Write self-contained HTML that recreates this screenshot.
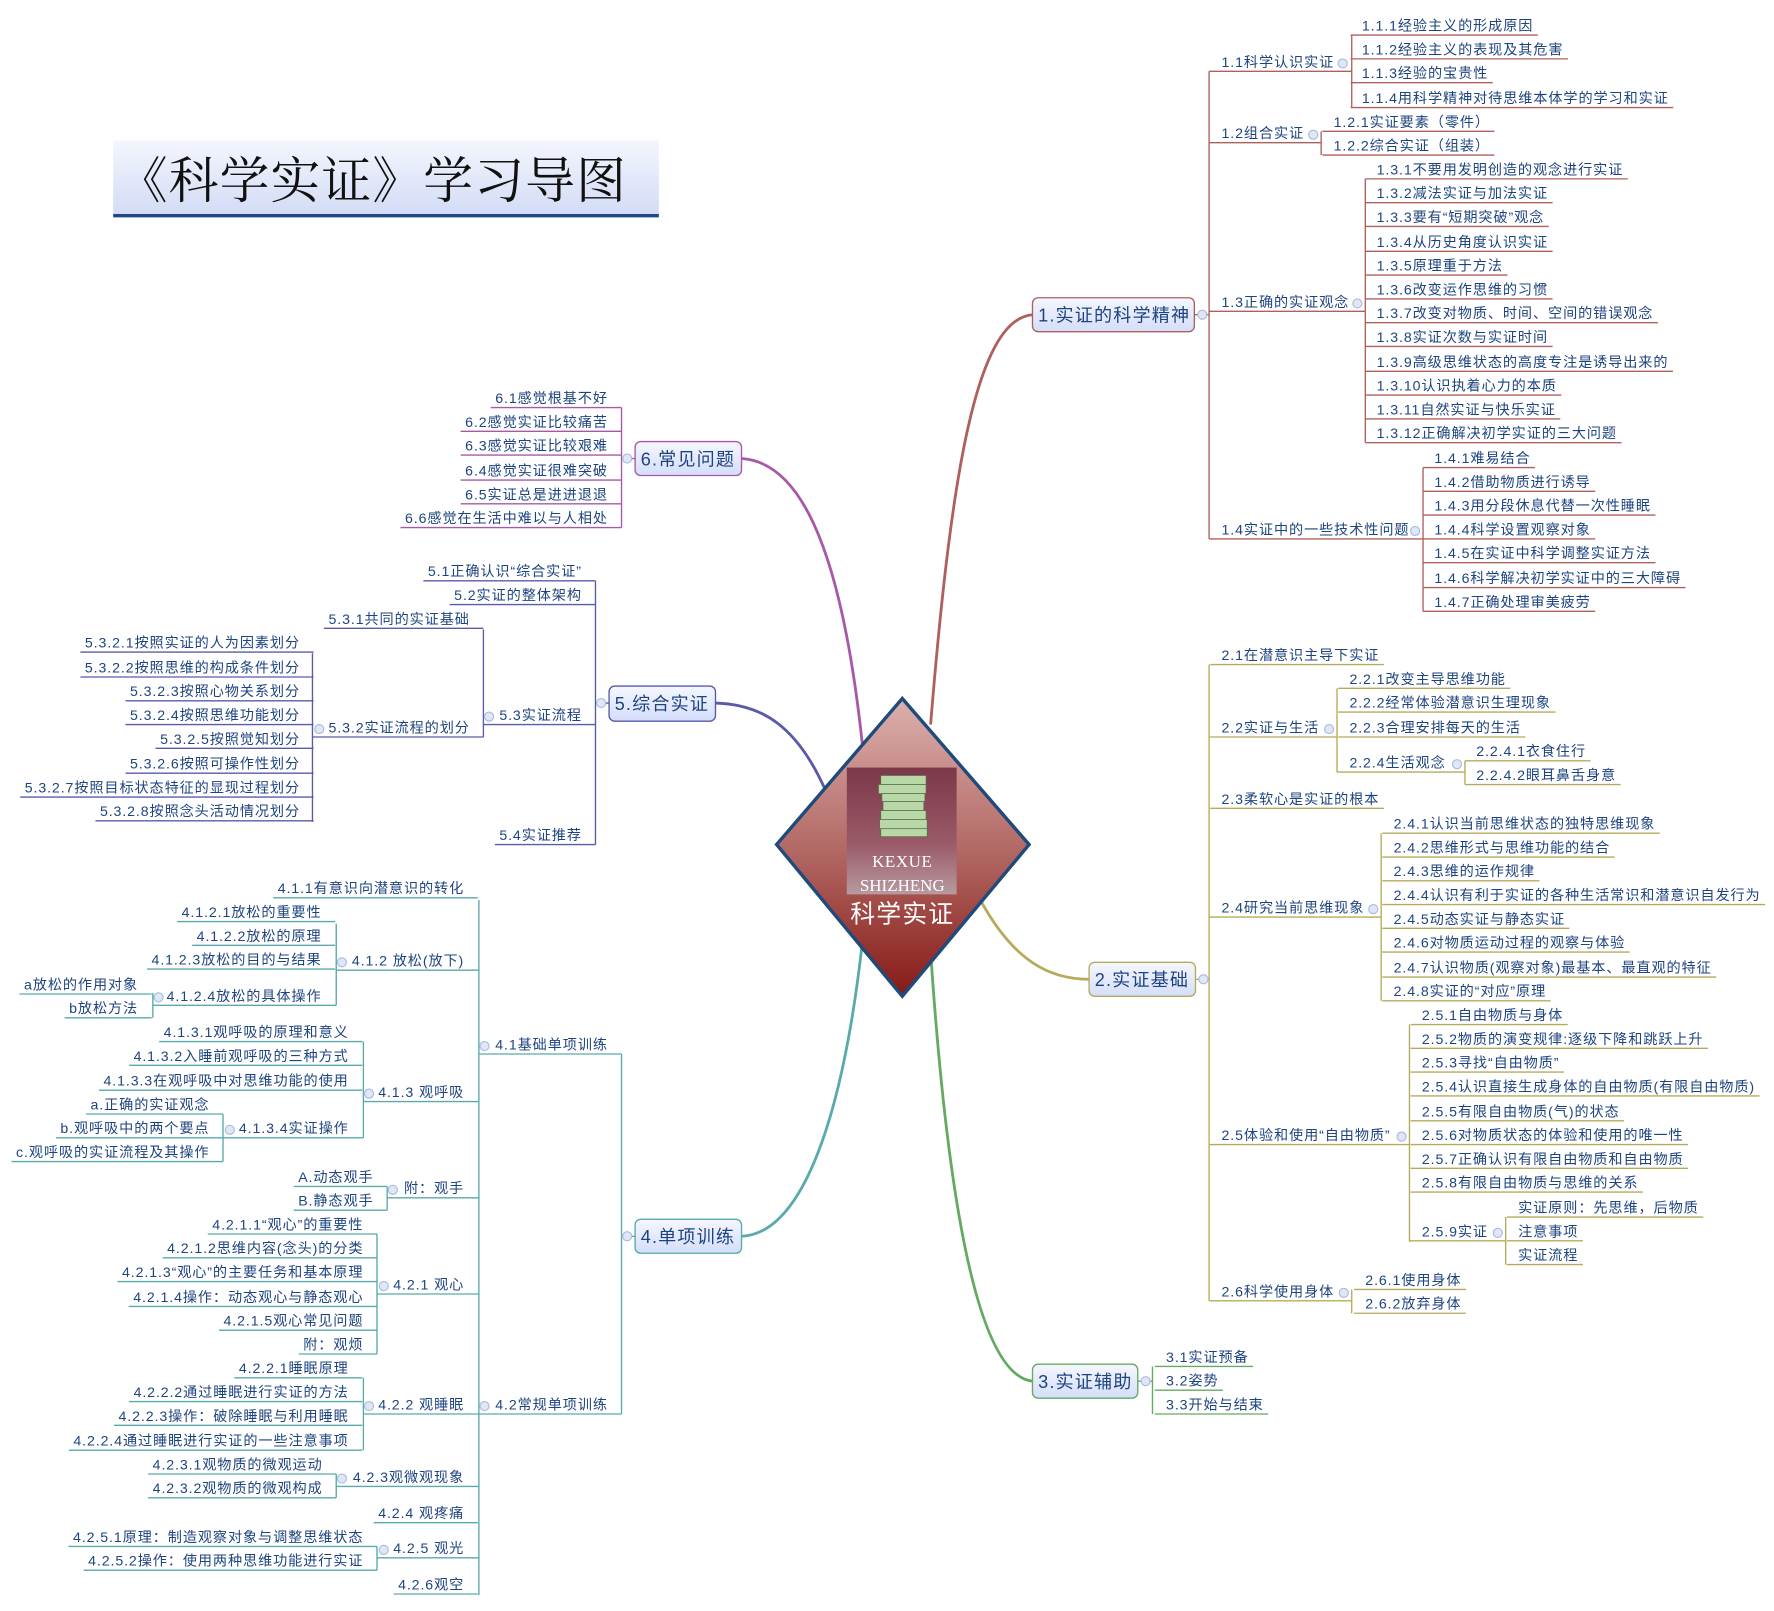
<!DOCTYPE html>
<html><head><meta charset="utf-8">
<style>
html,body{margin:0;padding:0;background:#fff;}
svg{display:block;}
text{font-family:"Liberation Sans","Noto Sans CJK SC",sans-serif;font-size:12.5px;fill:#1e4480;stroke:none;letter-spacing:0.8px;}
.mb{font-size:16px;letter-spacing:1px;}
.ln{fill:none;stroke-width:1.2;}
.cc{fill:#dfe7f6;stroke:#a9bbdc;stroke-width:1;}
</style></head>
<body>
<svg width="1774" height="1611" viewBox="0 0 1567 1423" xmlns="http://www.w3.org/2000/svg">
<defs>
<linearGradient id="tg" x1="0" y1="0" x2="0" y2="1"><stop offset="0" stop-color="#f4f6fd"/><stop offset="1" stop-color="#d3dcf6"/></linearGradient>
<linearGradient id="bg" x1="0" y1="0" x2="0" y2="1"><stop offset="0" stop-color="#f5f7fe"/><stop offset="1" stop-color="#d4defa"/></linearGradient>
<linearGradient id="dg" x1="0" y1="0" x2="0" y2="1"><stop offset="0" stop-color="#dcb0ad"/><stop offset="0.5" stop-color="#b36a66"/><stop offset="1" stop-color="#861a16"/></linearGradient>
<linearGradient id="ig" x1="0" y1="0" x2="0" y2="1"><stop offset="0" stop-color="#7a3848"/><stop offset="0.6" stop-color="#9a5a68"/><stop offset="1" stop-color="#b89aa0"/></linearGradient>
</defs>

<rect x="100" y="124" width="482" height="66" fill="url(#tg)"/>
<rect x="100" y="189" width="482" height="3" fill="#1d4a86"/>
<text x="104" y="175" style="font-family:'Liberation Serif','Noto Serif CJK SC',serif;font-size:44px;fill:#111;letter-spacing:1px;">《科学实证》学习导图</text>

<path d="M822,640 C840,420 862,282 912,278" fill="none" stroke="#b0605c" stroke-width="2.5"/>
<path d="M762,660 C742,470 702,408 655,405" fill="none" stroke="#a858a8" stroke-width="2.5"/>
<path d="M730,700 C704,640 672,622 632,621" fill="none" stroke="#5a5aaa" stroke-width="2.5"/>
<path d="M762,830 C742,1010 702,1090 655,1092" fill="none" stroke="#5aaaaa" stroke-width="2.5"/>
<path d="M866,795 C896,850 928,865 962,865" fill="none" stroke="#b4ac5c" stroke-width="2.5"/>
<path d="M822,840 C836,1050 862,1215 912,1220" fill="none" stroke="#66aa62" stroke-width="2.5"/>

<polygon points="797,617 909,746 797,880 686,746" fill="url(#dg)" stroke="#1e4a7c" stroke-width="3"/>
<rect x="748" y="678" width="97" height="112" fill="url(#ig)"/>
<g fill="#b8d8a8" stroke="#5a6a4a" stroke-width="0.6">
<rect x="778" y="685" width="40" height="8"/><rect x="776" y="693" width="42" height="8"/><rect x="779" y="701" width="38" height="7"/>
<rect x="780" y="708" width="36" height="8"/><rect x="778" y="716" width="40" height="8"/><rect x="777" y="724" width="42" height="8"/><rect x="778" y="732" width="41" height="7"/>
</g>
<text x="797" y="766" text-anchor="middle" style="font-family:'Liberation Serif',serif;font-size:15px;fill:#fff;letter-spacing:0.5px;">KEXUE</text>
<text x="797" y="787" text-anchor="middle" style="font-family:'Liberation Serif',serif;font-size:15px;fill:#fff;letter-spacing:0;">SHIZHENG</text>
<text x="797" y="815" text-anchor="middle" style="font-size:22px;fill:#fff;letter-spacing:1px;">科学实证</text>

<g stroke="#b0605c">
<rect x="912" y="263" width="143" height="30" rx="5" fill="url(#bg)" stroke-width="1.2"/>
<text class="mb" x="917" y="284">1.实证的科学精神</text>
<path class="ln" d="M1055,278 H1068 M1068,63 V476 M1068,63 H1194 M1068,126 H1167 M1068,275 H1206 M1068,476 H1257 M1194,31 V95 M1167,116 V137 M1206,158 V391 M1257,413 V540"/>
<circle class="cc" cx="1062" cy="278" r="4"/><circle class="cc" cx="1186" cy="56" r="4"/><circle class="cc" cx="1160" cy="119" r="4"/><circle class="cc" cx="1199" cy="268" r="4"/><circle class="cc" cx="1250" cy="469" r="4"/>
<text x="1079" y="59">1.1科学认识实证</text>
<text x="1079" y="122">1.2组合实证</text>
<text x="1079" y="271">1.3正确的实证观念</text>
<text x="1079" y="472">1.4实证中的一些技术性问题</text>
<text class="l" x="1203" y="27">1.1.1经验主义的形成原因</text>
<text class="l" x="1203" y="48">1.1.2经验主义的表现及其危害</text>
<text class="l" x="1203" y="69">1.1.3经验的宝贵性</text>
<text class="l" x="1203" y="91">1.1.4用科学精神对待思维本体学的学习和实证</text>
<text class="l" x="1178" y="112">1.2.1实证要素（零件）</text>
<text class="l" x="1178" y="133">1.2.2综合实证（组装）</text>
<text class="l" x="1216" y="154">1.3.1不要用发明创造的观念进行实证</text>
<text class="l" x="1216" y="175">1.3.2减法实证与加法实证</text>
<text class="l" x="1216" y="196">1.3.3要有“短期突破”观念</text>
<text class="l" x="1216" y="218">1.3.4从历史角度认识实证</text>
<text class="l" x="1216" y="239">1.3.5原理重于方法</text>
<text class="l" x="1216" y="260">1.3.6改变运作思维的习惯</text>
<text class="l" x="1216" y="281">1.3.7改变对物质、时间、空间的错误观念</text>
<text class="l" x="1216" y="302">1.3.8实证次数与实证时间</text>
<text class="l" x="1216" y="324">1.3.9高级思维状态的高度专注是诱导出来的</text>
<text class="l" x="1216" y="345">1.3.10认识执着心力的本质</text>
<text class="l" x="1216" y="366">1.3.11自然实证与快乐实证</text>
<text class="l" x="1216" y="387">1.3.12正确解决初学实证的三大问题</text>
<text class="l" x="1267" y="409">1.4.1难易结合</text>
<text class="l" x="1267" y="430">1.4.2借助物质进行诱导</text>
<text class="l" x="1267" y="451">1.4.3用分段休息代替一次性睡眠</text>
<text class="l" x="1267" y="472">1.4.4科学设置观察对象</text>
<text class="l" x="1267" y="493">1.4.5在实证中科学调整实证方法</text>
<text class="l" x="1267" y="515">1.4.6科学解决初学实证中的三大障碍</text>
<text class="l" x="1267" y="536">1.4.7正确处理审美疲劳</text>
</g>

<g stroke="#b4ac5c">
<rect x="962" y="850" width="94" height="30" rx="5" fill="url(#bg)" stroke-width="1.2"/>
<text class="mb" x="967" y="871">2.实证基础</text>
<path class="ln" d="M1056,865 H1068 M1068,587 V1149 M1068,651 H1181 M1181,682 H1294 M1068,810 H1220 M1068,1011 H1245 M1245,1096 H1330 M1068,1149 H1194 M1181,608 V682 M1294,672 V693 M1220,736 V884 M1245,905 V1097 M1330,1075 V1117 M1194,1139 V1160"/>
<circle class="cc" cx="1063" cy="865" r="4"/><circle class="cc" cx="1174" cy="644" r="4"/><circle class="cc" cx="1287" cy="675" r="4"/><circle class="cc" cx="1213" cy="803" r="4"/><circle class="cc" cx="1238" cy="1004" r="4"/><circle class="cc" cx="1323" cy="1089" r="4"/><circle class="cc" cx="1187" cy="1142" r="4"/>
<text class="l" x="1079" y="583">2.1在潜意识主导下实证</text>
<text x="1079" y="647">2.2实证与生活</text>
<text class="l" x="1079" y="710">2.3柔软心是实证的根本</text>
<text x="1079" y="806">2.4研究当前思维现象</text>
<text x="1079" y="1007">2.5体验和使用“自由物质”</text>
<text x="1079" y="1145">2.6科学使用身体</text>
<text class="l" x="1192" y="604">2.2.1改变主导思维功能</text>
<text class="l" x="1192" y="625">2.2.2经常体验潜意识生理现象</text>
<text class="l" x="1192" y="647">2.2.3合理安排每天的生活</text>
<text x="1192" y="678">2.2.4生活观念</text>
<text class="l" x="1304" y="668">2.2.4.1衣食住行</text>
<text class="l" x="1304" y="689">2.2.4.2眼耳鼻舌身意</text>
<text class="l" x="1231" y="732">2.4.1认识当前思维状态的独特思维现象</text>
<text class="l" x="1231" y="753">2.4.2思维形式与思维功能的结合</text>
<text class="l" x="1231" y="774">2.4.3思维的运作规律</text>
<text class="l" x="1231" y="795">2.4.4认识有利于实证的各种生活常识和潜意识自发行为</text>
<text class="l" x="1231" y="816">2.4.5动态实证与静态实证</text>
<text class="l" x="1231" y="837">2.4.6对物质运动过程的观察与体验</text>
<text class="l" x="1231" y="859">2.4.7认识物质(观察对象)最基本、最直观的特征</text>
<text class="l" x="1231" y="880">2.4.8实证的“对应”原理</text>
<text class="l" x="1256" y="901">2.5.1自由物质与身体</text>
<text class="l" x="1256" y="922">2.5.2物质的演变规律:逐级下降和跳跃上升</text>
<text class="l" x="1256" y="943">2.5.3寻找“自由物质”</text>
<text class="l" x="1256" y="964">2.5.4认识直接生成身体的自由物质(有限自由物质)</text>
<text class="l" x="1256" y="986">2.5.5有限自由物质(气)的状态</text>
<text class="l" x="1256" y="1007">2.5.6对物质状态的体验和使用的唯一性</text>
<text class="l" x="1256" y="1028">2.5.7正确认识有限自由物质和自由物质</text>
<text class="l" x="1256" y="1049">2.5.8有限自由物质与思维的关系</text>
<text x="1256" y="1092">2.5.9实证</text>
<text class="l" x="1341" y="1071">实证原则：先思维，后物质</text>
<text class="l" x="1341" y="1092">注意事项</text>
<text class="l" x="1341" y="1113">实证流程</text>
<text class="l" x="1206" y="1135">2.6.1使用身体</text>
<text class="l" x="1206" y="1156">2.6.2放弃身体</text>
</g>

<g stroke="#66aa62">
<rect x="912" y="1205" width="93" height="30" rx="5" fill="url(#bg)" stroke-width="1.2"/>
<text class="mb" x="917" y="1226">3.实证辅助</text>
<path class="ln" d="M1005,1220 H1018 M1018,1207 V1249"/>
<circle class="cc" cx="1012" cy="1220" r="4"/>
<text class="l" x="1030" y="1203">3.1实证预备</text>
<text class="l" x="1030" y="1224">3.2姿势</text>
<text class="l" x="1030" y="1245">3.3开始与结束</text>
</g>

<g stroke="#a858a8">
<rect x="561" y="390" width="94" height="30" rx="5" fill="url(#bg)" stroke-width="1.2"/>
<text class="mb" x="566" y="411">6.常见问题</text>
<path class="ln" d="M549,405 H561 M549,360 V466"/>
<circle class="cc" cx="554" cy="405" r="4"/>
<text class="l" text-anchor="end" x="537" y="356">6.1感觉根基不好</text>
<text class="l" text-anchor="end" x="537" y="377">6.2感觉实证比较痛苦</text>
<text class="l" text-anchor="end" x="537" y="398">6.3感觉实证比较艰难</text>
<text class="l" text-anchor="end" x="537" y="420">6.4感觉实证很难突破</text>
<text class="l" text-anchor="end" x="537" y="441">6.5实证总是进进退退</text>
<text class="l" text-anchor="end" x="537" y="462">6.6感觉在生活中难以与人相处</text>
</g>

<g stroke="#5a5aaa">
<rect x="538" y="606" width="94" height="31" rx="5" fill="url(#bg)" stroke-width="1.2"/>
<text class="mb" x="543" y="627">5.综合实证</text>
<path class="ln" d="M526,621 H538 M526,513 V746 M427,640 H526 M276,651 H427 M427,556 V651 M276,577 V726"/>
<circle class="cc" cx="531" cy="621" r="4"/><circle class="cc" cx="432" cy="633" r="4"/><circle class="cc" cx="282" cy="644" r="4"/>
<text class="l" text-anchor="end" x="514" y="509">5.1正确认识“综合实证”</text>
<text class="l" text-anchor="end" x="514" y="530">5.2实证的整体架构</text>
<text text-anchor="end" x="514" y="636">5.3实证流程</text>
<text class="l" text-anchor="end" x="514" y="742">5.4实证推荐</text>
<text class="l" text-anchor="end" x="415" y="551">5.3.1共同的实证基础</text>
<text text-anchor="end" x="415" y="647">5.3.2实证流程的划分</text>
<text class="l" text-anchor="end" x="265" y="572">5.3.2.1按照实证的人为因素划分</text>
<text class="l" text-anchor="end" x="265" y="594">5.3.2.2按照思维的构成条件划分</text>
<text class="l" text-anchor="end" x="265" y="615">5.3.2.3按照心物关系划分</text>
<text class="l" text-anchor="end" x="265" y="636">5.3.2.4按照思维功能划分</text>
<text class="l" text-anchor="end" x="265" y="657">5.3.2.5按照觉知划分</text>
<text class="l" text-anchor="end" x="265" y="679">5.3.2.6按照可操作性划分</text>
<text class="l" text-anchor="end" x="265" y="700">5.3.2.7按照目标状态特征的显现过程划分</text>
<text class="l" text-anchor="end" x="265" y="721">5.3.2.8按照念头活动情况划分</text>
</g>

<g stroke="#5aaaaa">
<rect x="561" y="1077" width="94" height="30" rx="5" fill="url(#bg)" stroke-width="1.2"/>
<text class="mb" x="566" y="1098">4.单项训练</text>
<path class="ln" d="M549,1092 H561 M549,931 V1249 M423,931 H549 M423,1249 H549 M423,795 V1409
M297,857 H423 M297,816 V888 M135,888 H297 M135,877 V899
M321,973 H423 M321,920 V1005 M197,1005 H321 M197,984 V1026
M342,1058 H423 M342,1048 V1069
M333,1143 H423 M333,1090 V1196
M321,1249 H423 M321,1217 V1281
M297,1313 H423 M297,1302 V1323
M333,1376 H423 M333,1366 V1387"/>
<circle class="cc" cx="554" cy="1092" r="4"/><circle class="cc" cx="428" cy="924" r="4"/><circle class="cc" cx="428" cy="1242" r="4"/>
<circle class="cc" cx="302" cy="850" r="4"/><circle class="cc" cx="140" cy="881" r="4"/><circle class="cc" cx="326" cy="966" r="4"/><circle class="cc" cx="203" cy="998" r="4"/><circle class="cc" cx="347" cy="1051" r="4"/>
<circle class="cc" cx="339" cy="1136" r="4"/><circle class="cc" cx="326" cy="1242" r="4"/><circle class="cc" cx="302" cy="1306" r="4"/><circle class="cc" cx="339" cy="1369" r="4"/>
<text text-anchor="end" x="537" y="927">4.1基础单项训练</text>
<text text-anchor="end" x="537" y="1245">4.2常规单项训练</text>
<text class="l" text-anchor="end" x="410" y="789">4.1.1有意识向潜意识的转化</text>
<text text-anchor="end" x="410" y="853">4.1.2 放松(放下)</text>
<text class="l" text-anchor="end" x="284" y="810">4.1.2.1放松的重要性</text>
<text class="l" text-anchor="end" x="284" y="831">4.1.2.2放松的原理</text>
<text class="l" text-anchor="end" x="284" y="852">4.1.2.3放松的目的与结果</text>
<text text-anchor="end" x="284" y="884">4.1.2.4放松的具体操作</text>
<text class="l" text-anchor="end" x="122" y="874">a放松的作用对象</text>
<text class="l" text-anchor="end" x="122" y="895">b放松方法</text>
<text text-anchor="end" x="410" y="969">4.1.3 观呼吸</text>
<text class="l" text-anchor="end" x="308" y="916">4.1.3.1观呼吸的原理和意义</text>
<text class="l" text-anchor="end" x="308" y="937">4.1.3.2入睡前观呼吸的三种方式</text>
<text class="l" text-anchor="end" x="308" y="959">4.1.3.3在观呼吸中对思维功能的使用</text>
<text text-anchor="end" x="308" y="1001">4.1.3.4实证操作</text>
<text class="l" text-anchor="end" x="185" y="980">a.正确的实证观念</text>
<text class="l" text-anchor="end" x="185" y="1001">b.观呼吸中的两个要点</text>
<text class="l" text-anchor="end" x="185" y="1022">c.观呼吸的实证流程及其操作</text>
<text text-anchor="end" x="410" y="1054">附：观手</text>
<text class="l" text-anchor="end" x="330" y="1044">A.动态观手</text>
<text class="l" text-anchor="end" x="330" y="1065">B.静态观手</text>
<text text-anchor="end" x="410" y="1139">4.2.1 观心</text>
<text class="l" text-anchor="end" x="321" y="1086">4.2.1.1“观心”的重要性</text>
<text class="l" text-anchor="end" x="321" y="1107">4.2.1.2思维内容(念头)的分类</text>
<text class="l" text-anchor="end" x="321" y="1128">4.2.1.3“观心”的主要任务和基本原理</text>
<text class="l" text-anchor="end" x="321" y="1150">4.2.1.4操作：动态观心与静态观心</text>
<text class="l" text-anchor="end" x="321" y="1171">4.2.1.5观心常见问题</text>
<text class="l" text-anchor="end" x="321" y="1192">附：观烦</text>
<text text-anchor="end" x="410" y="1245">4.2.2 观睡眠</text>
<text class="l" text-anchor="end" x="308" y="1213">4.2.2.1睡眠原理</text>
<text class="l" text-anchor="end" x="308" y="1234">4.2.2.2通过睡眠进行实证的方法</text>
<text class="l" text-anchor="end" x="308" y="1255">4.2.2.3操作：破除睡眠与利用睡眠</text>
<text class="l" text-anchor="end" x="308" y="1277">4.2.2.4通过睡眠进行实证的一些注意事项</text>
<text text-anchor="end" x="410" y="1309">4.2.3观微观现象</text>
<text class="l" text-anchor="end" x="285" y="1298">4.2.3.1观物质的微观运动</text>
<text class="l" text-anchor="end" x="285" y="1319">4.2.3.2观物质的微观构成</text>
<text class="l" text-anchor="end" x="410" y="1341">4.2.4 观疼痛</text>
<text text-anchor="end" x="410" y="1372">4.2.5 观光</text>
<text class="l" text-anchor="end" x="321" y="1362">4.2.5.1原理：制造观察对象与调整思维状态</text>
<text class="l" text-anchor="end" x="321" y="1383">4.2.5.2操作：使用两种思维功能进行实证</text>
<text class="l" text-anchor="end" x="410" y="1404">4.2.6观空</text>
</g>
</svg>
<script>
(function(){
var NS="http://www.w3.org/2000/svg";
var ts=document.querySelectorAll("text.l");
for(var i=0;i<ts.length;i++){
 var t=ts[i],b=t.getBBox(),end=t.getAttribute("text-anchor")==="end";
 var y=parseFloat(t.getAttribute("y"))+4;
 var x1=end?b.x-4:b.x-10, x2=end?b.x+b.width+12:b.x+b.width+4;
 var l=document.createElementNS(NS,"line");
 l.setAttribute("x1",x1);l.setAttribute("x2",x2);l.setAttribute("y1",y);l.setAttribute("y2",y);
 l.setAttribute("stroke-width","1.2");
 t.parentNode.insertBefore(l,t);
}
})();
</script>
</body></html>
